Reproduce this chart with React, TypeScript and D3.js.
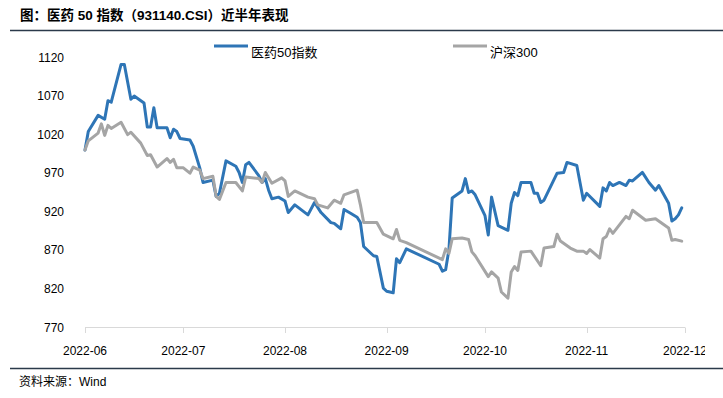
import * as d3 from 'd3';

const W = 723,
  H = 398;

// 医药50指数 (931140.CSI)
const pharmaDates = [
  '2022-06-01', '2022-06-02', '2022-06-05', '2022-06-07', '2022-06-08', '2022-06-09', '2022-06-12', '2022-06-13',
  '2022-06-15', '2022-06-16', '2022-06-19', '2022-06-20', '2022-06-21', '2022-06-22', '2022-06-23', '2022-06-26',
  '2022-06-27', '2022-06-28', '2022-06-29', '2022-06-30', '2022-07-03', '2022-07-04', '2022-07-06', '2022-07-07',
  '2022-07-10', '2022-07-11', '2022-07-12', '2022-07-14', '2022-07-17', '2022-07-18', '2022-07-19', '2022-07-20',
  '2022-07-21', '2022-07-24', '2022-07-25', '2022-07-26', '2022-07-27', '2022-07-28', '2022-07-30', '2022-08-01',
  '2022-08-02', '2022-08-04', '2022-08-08', '2022-08-10', '2022-08-12', '2022-08-15', '2022-08-16', '2022-08-18',
  '2022-08-19', '2022-08-21', '2022-08-23', '2022-08-24', '2022-08-25', '2022-08-28', '2022-08-29', '2022-08-31',
  '2022-09-01', '2022-09-03', '2022-09-04', '2022-09-05', '2022-09-07', '2022-09-17', '2022-09-18', '2022-09-19',
  '2022-09-20', '2022-09-21', '2022-09-24', '2022-09-25', '2022-09-26', '2022-09-27', '2022-09-28', '2022-10-01',
  '2022-10-02', '2022-10-03', '2022-10-05', '2022-10-08', '2022-10-09', '2022-10-10', '2022-10-11', '2022-10-12',
  '2022-10-15', '2022-10-16', '2022-10-17', '2022-10-18', '2022-10-19', '2022-10-23', '2022-10-25', '2022-10-26',
  '2022-10-29', '2022-10-31', '2022-11-01', '2022-11-05', '2022-11-06', '2022-11-07', '2022-11-08', '2022-11-09',
  '2022-11-11', '2022-11-13', '2022-11-14', '2022-11-15', '2022-11-18', '2022-11-20', '2022-11-22', '2022-11-23',
  '2022-11-26', '2022-11-27', '2022-11-28', '2022-11-29', '2022-11-30',
];
const pharmaValues = [
  1000, 1024, 1045, 1040, 1064, 1062, 1111, 1111,
  1066, 1070, 1061, 1030, 1030, 1055, 1029, 1029,
  1016, 1027, 1024, 1015, 1013, 1005, 977, 958,
  961, 940, 944, 986, 979, 971, 958, 981,
  984, 967, 958, 963, 948, 937, 939, 934,
  919, 929, 916, 932, 919, 906, 905, 898,
  923, 918, 913, 906, 875, 863, 862, 821,
  817, 815, 859, 854, 872, 852, 843, 845,
  871, 938, 947, 963, 945, 947, 942, 915,
  890, 939, 902, 896, 931, 945, 941, 958,
  958, 944, 944, 932, 935, 970, 971, 984,
  980, 935, 944, 927, 951, 947, 958, 954,
  958, 954, 961, 960, 971, 958, 948, 954,
  931, 908, 911, 916, 925,
];

// 沪深300
const hs300Dates = [
  '2022-06-01', '2022-06-02', '2022-06-05', '2022-06-06', '2022-06-07', '2022-06-08', '2022-06-09', '2022-06-12',
  '2022-06-14', '2022-06-15', '2022-06-18', '2022-06-20', '2022-06-21', '2022-06-23', '2022-06-26', '2022-06-27',
  '2022-06-28', '2022-06-29', '2022-07-01', '2022-07-03', '2022-07-04', '2022-07-06', '2022-07-07', '2022-07-10',
  '2022-07-11', '2022-07-12', '2022-07-14', '2022-07-17', '2022-07-19', '2022-07-20', '2022-07-24', '2022-07-25',
  '2022-07-26', '2022-07-28', '2022-07-31', '2022-08-01', '2022-08-02', '2022-08-04', '2022-08-08', '2022-08-10',
  '2022-08-11', '2022-08-14', '2022-08-16', '2022-08-18', '2022-08-19', '2022-08-23', '2022-08-24', '2022-08-25',
  '2022-08-29', '2022-08-31', '2022-09-03', '2022-09-04', '2022-09-05', '2022-09-07', '2022-09-18', '2022-09-19',
  '2022-09-20', '2022-09-21', '2022-09-24', '2022-09-26', '2022-09-27', '2022-09-28', '2022-10-02', '2022-10-03',
  '2022-10-05', '2022-10-06', '2022-10-08', '2022-10-09', '2022-10-10', '2022-10-11', '2022-10-12', '2022-10-15',
  '2022-10-18', '2022-10-19', '2022-10-22', '2022-10-23', '2022-10-24', '2022-10-27', '2022-10-29', '2022-10-31',
  '2022-11-01', '2022-11-02', '2022-11-05', '2022-11-06', '2022-11-07', '2022-11-08', '2022-11-09', '2022-11-13',
  '2022-11-14', '2022-11-15', '2022-11-19', '2022-11-22', '2022-11-26', '2022-11-27', '2022-11-28', '2022-11-30',
];
const hs300Values = [
  1000, 1012, 1022, 1034, 1019, 1032, 1028, 1036,
  1020, 1023, 1009, 993, 994, 978, 989, 984,
  988, 977, 977, 970, 978, 974, 963, 966,
  940, 936, 958, 958, 947, 965, 963, 958,
  971, 957, 964, 960, 940, 947, 939, 937,
  929, 925, 935, 931, 942, 948, 929, 906,
  906, 891, 885, 897, 883, 880, 858, 872,
  866, 885, 886, 884, 868, 863, 836, 842,
  834, 816, 808, 842, 849, 844, 868, 869,
  850, 873, 875, 891, 882, 873, 869, 869,
  866, 871, 860, 885, 888, 898, 892, 914,
  911, 922, 909, 911, 899, 883, 884, 882,
];

const seriesNames = ['医药50指数', '沪深300'];
const seriesColors = ['#2e75b6', '#a5a5a5'];
const yTicks = [770, 820, 870, 920, 970, 1020, 1070, 1120];
const monthTicks = ['2022-06-01', '2022-07-01', '2022-08-01', '2022-09-01', '2022-10-01', '2022-11-01', '2022-12-01'];

const FONT = '"Liberation Sans", Arial, "Noto Sans CJK SC", sans-serif';

export default function App() {
  const parse = d3.utcParse('%Y-%m-%d');
  const fmt = d3.utcFormat('%Y-%m');

  const x = d3
    .scaleUtc()
    .domain([parse('2022-06-01')!, parse('2022-12-01')!])
    .range([85, 685]);
  const y = d3.scaleLinear().domain([770, 1120]).range([327.5, 57.5]);

  const series = [
    pharmaDates.map((d, i) => ({ date: parse(d)!, value: pharmaValues[i] })),
    hs300Dates.map((d, i) => ({ date: parse(d)!, value: hs300Values[i] })),
  ];

  const line = d3
    .line<{ date: Date; value: number }>()
    .x((d) => x(d.date))
    .y((d) => y(d.value));

  const legendX = [214, 453];

  return (
    <svg
      width={W}
      height={H}
      style={{ position: 'absolute', left: 0, top: 0, background: '#fff' }}
      fontFamily={FONT}
    >
      <defs>
        <clipPath id="plotClip">
          <rect x={0} y={0} width={705} height={H} />
        </clipPath>
      </defs>

      {/* title */}
      <text x={20} y={20} fontSize={13.5} fontWeight="bold" fill="#000">
        图：医药 50 指数（931140.CSI）近半年表现
      </text>
      <line x1={10} x2={W} y1={30.5} y2={30.5} stroke="#2b3a4a" strokeWidth={1.5} />

      {/* legend */}
      {seriesNames.map((name, i) => (
        <g key={name}>
          <line x1={legendX[i]} x2={legendX[i] + 34} y1={46} y2={46} stroke={seriesColors[i]} strokeWidth={3} />
          <text x={legendX[i] + 37} y={56.5} fontSize={13} fill="#000">
            {name}
          </text>
        </g>
      ))}

      {/* y labels */}
      {yTicks.map((t) => (
        <text key={t} x={64} y={y(t)} textAnchor="end" dominantBaseline="central" fontSize={12} fill="#000">
          {t}
        </text>
      ))}

      {/* x axis */}
      <line x1={85} x2={685} y1={327.5} y2={327.5} stroke="#d9d9d9" strokeWidth={1} />
      {monthTicks.map((m) => {
        const xp = Math.round(x(parse(m)!)) + 0.5;
        return <line key={m} x1={xp} x2={xp} y1={327.5} y2={333} stroke="#d9d9d9" strokeWidth={1} />;
      })}
      <g clipPath="url(#plotClip)">
        {monthTicks.map((m) => (
          <text key={m} x={x(parse(m)!)} y={355} textAnchor="middle" fontSize={12} fill="#000">
            {fmt(parse(m)!)}
          </text>
        ))}
      </g>

      {/* lines */}
      {series.map((s, i) => (
        <path
          key={seriesNames[i]}
          d={line(s) ?? ''}
          fill="none"
          stroke={seriesColors[i]}
          strokeWidth={3}
          strokeLinejoin="round"
          strokeLinecap="round"
        />
      ))}

      {/* source */}
      <line x1={10} x2={W} y1={368.5} y2={368.5} stroke="#2b3a4a" strokeWidth={1.5} />
      <text x={19} y={386} fontSize={12} fill="#000">
        资料来源：Wind
      </text>
    </svg>
  );
}
